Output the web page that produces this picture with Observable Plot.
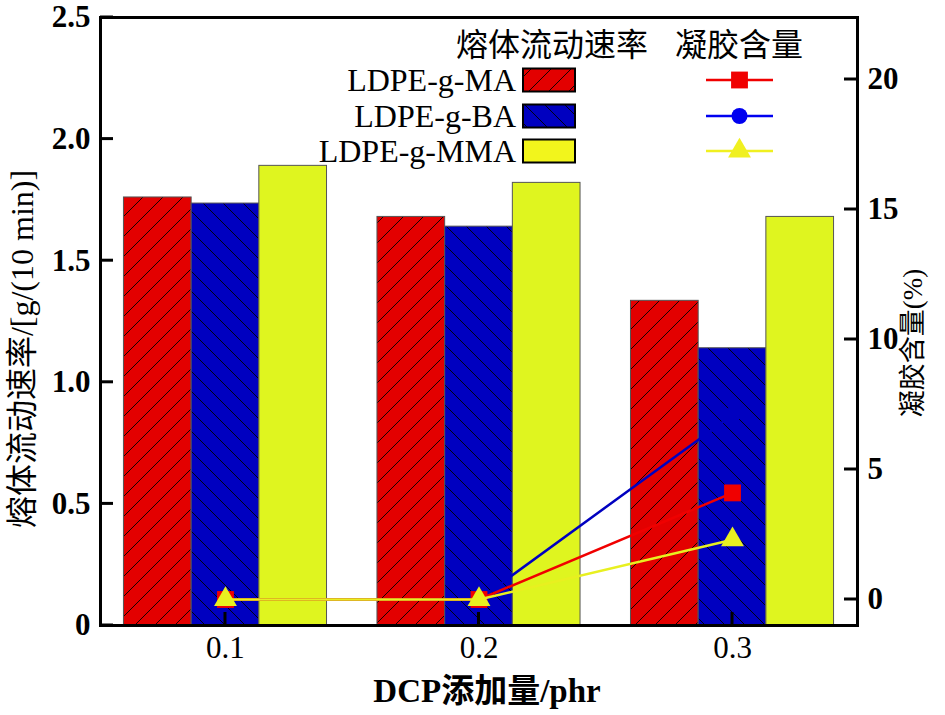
<!DOCTYPE html>
<html>
<head>
<meta charset="utf-8">
<script src="https://cdn.jsdelivr.net/npm/d3@7"></script>
<script src="https://cdn.jsdelivr.net/npm/@observablehq/plot@0.6"></script>
<style>
  html, body { margin: 0; padding: 0; background: white; }
  #wrap { position: relative; width: 945px; height: 715px; }
  #overlay { position: absolute; left: 0; top: 0; pointer-events: none; }
</style>
</head>
<body>
<div id="wrap"></div>
<script>
// ---- data ----
const dcp = [0.1, 0.2, 0.3];                       // DCP添加量/phr
const seriesNames = ["LDPE-g-MA", "LDPE-g-BA", "LDPE-g-MMA"];
const mfrMA  = [1.76, 1.68, 1.335];                 // 熔体流动速率 g/(10 min)
const mfrBA  = [1.735, 1.64, 1.14];
const mfrMMA = [1.89, 1.82, 1.68];
const gelMA  = [0, 0, 4.1];                         // 凝胶含量 %
const gelBA  = [0, 0, 7.1];
const gelMMA = [0, 0, 2.3];
const leftTicks = [0, 0.5, 1.0, 1.5, 2.0, 2.5];
const rightTicks = [0, 5, 10, 15, 20];
const xTicks = [0.1, 0.2, 0.3];

// ---- styles ----
const barColors  = ["#e30000", "#0000c0", "#dff51f"];
const lineColors = ["#f00000", "#0000c0", "#e8f020"];
const legLineColors = ["#f00000", "#0000f0", "#f0f020"];
const symbols = ["square", "circle", "triangle"];
const symR = [9.5, 8, 8.5];
const serif = "'Liberation Serif', 'Times New Roman', 'Noto Sans CJK SC', serif";
const cjk = "'Liberation Serif', 'Noto Sans CJK SC', serif";

const W = 945, H = 715, mL = 100, mR = 88, mT = 17, mB = 90;
const tickLen = 13;

const leftDomain = [0, 2.5];
const rightDomain = [-1, 22.385];
const toLeft = g => (g - rightDomain[0]) / (rightDomain[1] - rightDomain[0]) * (leftDomain[1] - leftDomain[0]);
const fromLeft = v => v / (leftDomain[1] - leftDomain[0]) * (rightDomain[1] - rightDomain[0]) + rightDomain[0];

const mfr = [mfrMA, mfrBA, mfrMMA];
const gel = [gelMA, gelBA, gelMMA];
const barW = 0.0267;

const barMarks = mfr.map((vals, k) =>
  Plot.rectY(dcp.map((d, i) => ({dcp: d, v: vals[i]})), {
    x1: d => d.dcp + (k - 1.5) * barW,
    x2: d => d.dcp + (k - 0.5) * barW,
    y1: 0, y2: "v",
    fill: k < 2 ? `url(#hatch${k})` : barColors[k],
    stroke: "#555", strokeWidth: 1
  })
);

const order = [1, 0, 2];
const lineMarks = order.flatMap(k => {
  const data = dcp.map((d, i) => ({dcp: d, g: gel[k][i]}));
  return [
    Plot.line(data, {x: "dcp", y: d => toLeft(d.g), stroke: lineColors[k], strokeWidth: 2.5}),
    Plot.dot(data, {x: "dcp", y: d => toLeft(d.g), symbol: symbols[k], r: symR[k], fill: lineColors[k], stroke: "none"})
  ];
});

const plot = Plot.plot({
  width: W, height: H,
  marginLeft: mL, marginRight: mR, marginTop: mT, marginBottom: mB,
  style: {fontFamily: serif, fontSize: "30px", color: "black", background: "white"},
  x: {domain: [0.0507, 0.3493]},
  y: {domain: leftDomain},
  marks: [
    Plot.axisY({ticks: leftTicks, tickSize: 0, tickPadding: 10, label: null, fontWeight: "bold", fontSize: 31,
      tickFormat: d => d === 0 ? "0" : d.toFixed(1)}),
    Plot.axisY({anchor: "right", ticks: rightTicks.map(toLeft), tickSize: 0, tickPadding: 10, label: null, fontWeight: "bold", fontSize: 31,
      tickFormat: d => String(Math.round(fromLeft(d)))}),
    Plot.axisX({ticks: xTicks, tickSize: 0, tickPadding: 10, label: null, fontSize: 31, tickFormat: d => d.toFixed(1)}),
    ...barMarks,
    ...lineMarks,
    Plot.frame({stroke: "black", strokeWidth: 3})
  ]
});

const wrap = document.getElementById("wrap");
wrap.appendChild(plot);

const xs = plot.scale("x"), ys = plot.scale("y");
const X0 = xs.range[0], X1 = xs.range[1];
const Y0 = ys.range[0];

// ---- overlay: patterns, inward ticks, titles, legend ----
const ov = d3.select(wrap).append("svg")
  .attr("id", "overlay").attr("width", W).attr("height", H);
const defs = ov.append("defs");
function hatch(id, color, dir) {
  const p = defs.append("pattern").attr("id", id)
    .attr("patternUnits", "userSpaceOnUse").attr("width", 20).attr("height", 20);
  p.append("rect").attr("width", 20).attr("height", 20).attr("fill", color);
  const d = dir === "up"
    ? "M0,20L20,0M-5,5L5,-5M15,25L25,15"
    : "M0,0L20,20M-5,15L5,25M15,-5L25,5";
  p.append("path").attr("d", d).attr("stroke", "black").attr("stroke-width", 0.9).attr("fill", "none");
}
hatch("hatch0", barColors[0], "up");
hatch("hatch1", barColors[1], "down");

// inward ticks, positioned by Plot's own scales
const tk = ov.append("g").attr("stroke", "black").attr("stroke-width", 3);
leftTicks.forEach(v => {
  const y = ys.apply(v);
  tk.append("line").attr("x1", X0).attr("x2", X0 + tickLen).attr("y1", y).attr("y2", y);
});
rightTicks.forEach(g => {
  const y = ys.apply(toLeft(g));
  tk.append("line").attr("x1", X1 - tickLen).attr("x2", X1).attr("y1", y).attr("y2", y);
});
xTicks.forEach(v => {
  const x = xs.apply(v);
  tk.append("line").attr("x1", x).attr("x2", x).attr("y1", Y0 - tickLen).attr("y2", Y0);
});

// axis titles
ov.append("text").attr("transform", "translate(22,349) rotate(-90)")
  .attr("text-anchor", "middle").attr("dominant-baseline", "central")
  .style("font-family", cjk).style("font-size", "32px")
  .text("熔体流动速率/[g/(10 min)]");
ov.append("text").attr("transform", "translate(913,343) rotate(-90)")
  .attr("text-anchor", "middle").attr("dominant-baseline", "central")
  .style("font-family", cjk).style("font-size", "27px")
  .text("凝胶含量(%)");
ov.append("text").attr("x", 487).attr("y", 702)
  .attr("text-anchor", "middle")
  .style("font-family", cjk).style("font-size", "33px").style("font-weight", "bold")
  .text("DCP添加量/phr");

// legend
ov.append("text").attr("x", 648).attr("y", 56).attr("text-anchor", "end")
  .style("font-family", cjk).style("font-size", "32px").text("熔体流动速率");
ov.append("text").attr("x", 675).attr("y", 56).attr("text-anchor", "start")
  .style("font-family", cjk).style("font-size", "32px").text("凝胶含量");
const rowY = [80, 116, 151];
const legFill = ["url(#hatch0)", "url(#hatch1)", "#f2f51c"];
seriesNames.forEach((name, k) => {
  const cy = rowY[k];
  ov.append("text").attr("x", 516).attr("y", cy + 11).attr("text-anchor", "end")
    .style("font-family", serif).style("font-size", "32px").text(name);
  ov.append("rect").attr("x", 523).attr("y", cy - 11.5).attr("width", 52).attr("height", 23)
    .attr("fill", legFill[k]).attr("stroke", "black").attr("stroke-width", 2);
  ov.append("line").attr("x1", 706).attr("x2", 773).attr("y1", cy).attr("y2", cy)
    .attr("stroke", legLineColors[k]).attr("stroke-width", 2.5);
  ov.append("path").attr("transform", `translate(739.5,${cy})`)
    .attr("d", d3.symbol(k === 0 ? d3.symbolSquare : k === 1 ? d3.symbolCircle : d3.symbolTriangle, Math.PI * symR[k] * symR[k])())
    .attr("fill", legLineColors[k]);
});
</script>
</body>
</html>
